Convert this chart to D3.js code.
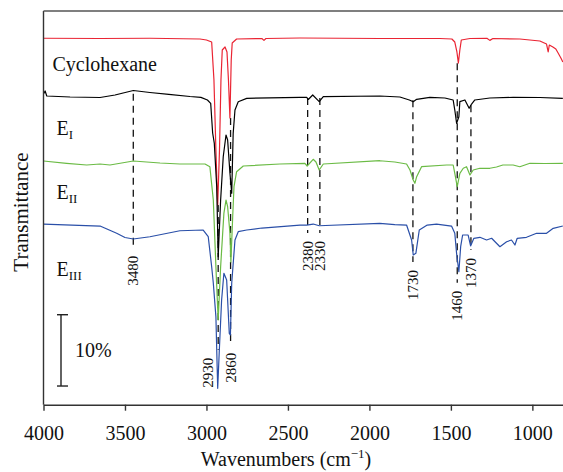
<!DOCTYPE html>
<html>
<head>
<meta charset="utf-8">
<script src="https://cdn.jsdelivr.net/npm/d3@7"></script>
<style>
  body { margin: 0; background: #fff; }
  svg text { font-family: "Liberation Serif", "DejaVu Serif", serif; fill: #111; }
</style>
</head>
<body>
<svg id="chart" width="563" height="472"></svg>
<script>
// spectra: [wavenumber (cm-1), transmittance (%, stacked)]
const cyclohexane = [
  [4000, 51.4], [3653, 51.36], [3347, 51.4], [3040, 51.29], [3000, 51.15], [2968, 50.87],
  [2954, 45.54], [2942, 35.72], [2931, 28.0], [2920, 35.72], [2911, 45.54], [2903, 49.75],
  [2886, 50.17], [2874, 49.47], [2865, 45.54], [2856, 40.21], [2848, 48.35], [2842, 50.73],
  [2815, 51.29], [2660, 51.36], [2647, 51.1], [2635, 51.36], [2426, 51.43], [1936, 51.36],
  [1568, 51.36], [1494, 51.29], [1476, 50.87], [1463, 49.47], [1454, 47.92], [1445, 49.75],
  [1436, 51.15], [1383, 51.36], [1279, 51.4], [1261, 51.1], [1242, 51.36], [1077, 51.29],
  [954, 51.01], [913, 50.59], [903, 49.47], [896, 50.45], [874, 50.17], [856, 49.89],
  [842, 49.33], [825, 48.63], [813, 48.07]
];
const eI = [
  [4000, 43.6], [3990, 44.0], [3980, 43.3], [3837, 43.16], [3653, 43.09], [3561, 43.44],
  [3449, 44.07], [3347, 43.79], [3231, 43.53], [3101, 43.23], [3034, 43.11], [2994, 42.74],
  [2974, 42.27], [2962, 38.11], [2952, 36.7], [2937, 30.58], [2928, 20.76], [2913, 28.71],
  [2897, 34.78], [2880, 37.83], [2870, 37.12], [2856, 32.5], [2845, 29.65], [2836, 38.06],
  [2825, 41.33], [2805, 42.5], [2753, 42.97], [2426, 43.11], [2385, 43.11], [2375, 42.81],
  [2348, 43.44], [2308, 42.5], [2283, 43.2], [1936, 43.3], [1813, 43.16], [1755, 42.74],
  [1731, 42.5], [1710, 42.83], [1629, 43.11], [1537, 43.02], [1486, 42.74], [1476, 41.33],
  [1465, 39.47], [1451, 40.39], [1445, 42.5], [1414, 42.74], [1388, 41.57], [1373, 42.17],
  [1353, 42.74], [1261, 43.02], [1118, 43.11], [954, 43.09], [813, 42.97]
];
const eII = [
  [4000, 34.18], [3858, 33.86], [3735, 33.62], [3653, 33.76], [3592, 33.62], [3449, 34.18],
  [3285, 33.9], [3163, 33.76], [3009, 33.76], [2979, 33.38], [2958, 28.71], [2942, 19.35],
  [2928, 11.88], [2913, 19.35], [2893, 26.84], [2880, 28.71], [2870, 27.77], [2856, 24.08],
  [2850, 20.01], [2839, 26.37], [2831, 30.58], [2815, 32.68], [2774, 33.48], [2549, 33.76],
  [2396, 33.86], [2382, 33.48], [2345, 34.42], [2328, 34.04], [2308, 32.92], [2283, 33.76],
  [1936, 34.22], [1844, 34.04], [1772, 33.76], [1751, 32.92], [1731, 31.52], [1721, 31.05],
  [1710, 31.98], [1680, 33.38], [1526, 33.62], [1486, 33.62], [1476, 32.45], [1461, 30.58],
  [1445, 32.45], [1424, 33.16], [1404, 33.38], [1383, 32.22], [1363, 32.92], [1322, 33.16],
  [1261, 33.16], [1220, 33.34], [1181, 33.62], [1118, 33.62], [1077, 33.38], [1015, 33.86],
  [923, 33.83], [813, 33.86]
];
const eIII = [
  [4000, 25.34], [3653, 25.06], [3551, 24.04], [3500, 23.45], [3449, 23.24], [3347, 23.56],
  [3163, 24.4], [3020, 24.5], [2989, 23.56], [2968, 19.35], [2958, 17.07], [2942, 12.34],
  [2931, 2.3], [2921, 7.67], [2907, 14.68], [2893, 18.43], [2876, 17.49], [2860, 10.01],
  [2853, 9.78], [2845, 17.03], [2825, 23.1], [2805, 24.27], [2753, 24.5], [2660, 24.78],
  [2426, 25.2], [2385, 25.2], [2345, 25.34], [2308, 25.1], [1936, 25.44], [1844, 25.27],
  [1772, 25.2], [1741, 23.1], [1731, 21.0], [1715, 21.23], [1694, 24.5], [1645, 25.2],
  [1588, 25.34], [1496, 25.06], [1476, 24.04], [1465, 21.23], [1451, 18.65], [1440, 22.16],
  [1428, 23.8], [1394, 23.8], [1379, 22.26], [1359, 23.34], [1322, 23.48], [1281, 23.1],
  [1250, 23.34], [1220, 22.64], [1199, 22.16], [1158, 22.86], [1128, 23.1], [1107, 22.4],
  [1093, 23.34], [1036, 23.48], [974, 24.04], [913, 24.04], [872, 24.74], [813, 25.06]
];

const seriesData = [cyclohexane, eI, eII, eIII];
const seriesColors = ["#ea2433", "#000000", "#6bbb45", "#2a4fa8"];
const seriesNames = ["Cyclohexane", "E", "E", "E"];
const seriesSubs = ["", "I", "II", "III"];

// marked bands
const peakLabels = ["3480", "2930", "2860", "2380", "2330", "1730", "1460", "1370"];
const peakPos = [3449, 2928, 2852, 2379, 2304, 1733, 1461, 1377];
const peakTop = [43.6, 28.0, 40.2, 43.0, 43.0, 42.7, 47.9, 42.0];
const peakBottom = [22.0, 7.7, 8.4, 24.1, 24.1, 20.0, 17.1, 21.7];

const xTicks = [4000, 3500, 3000, 2500, 2000, 1500, 1000];
const scaleBarSpan = 10; // %

const serif = "'Liberation Serif', 'DejaVu Serif', serif";
const svg = d3.select("#chart");
const plotLeft = 43.5, plotRight = 563, plotTop = 11, plotBottom = 404.7;

const x = d3.scaleLinear().domain([4000, 812]).range([plotLeft, plotRight]);
const y = d3.scaleLinear().domain([0, 55.22]).range([plotBottom, plotTop]);

svg.append("defs").append("clipPath").attr("id", "plotclip")
  .append("rect").attr("x", plotLeft).attr("y", plotTop)
  .attr("width", plotRight - plotLeft).attr("height", plotBottom - plotTop);

const plot = svg.append("g").attr("clip-path", "url(#plotclip)");

// dashed band markers
peakPos.forEach((p, i) => {
  plot.append("line")
    .attr("x1", x(p)).attr("x2", x(p))
    .attr("y1", y(peakTop[i])).attr("y2", y(peakBottom[i]))
    .attr("stroke", "#111")
    .attr("stroke-width", 1.3)
    .attr("stroke-dasharray", "7,5");
});

const line = d3.line()
  .x(d => x(d[0]))
  .y(d => y(d[1]));

seriesData.forEach((s, i) => {
  plot.append("path")
    .datum(s)
    .attr("fill", "none")
    .attr("stroke", seriesColors[i])
    .attr("stroke-width", 1.2)
    .attr("stroke-linejoin", "round")
    .attr("d", line);
});

// band labels, rotated
peakLabels.forEach((lab, i) => {
  const dx = lab === "2930" ? -10 : 0;
  const px = x(peakPos[i]) + dx;
  const py = y(peakBottom[i]) + 8;
  svg.append("text")
    .attr("transform", `translate(${px + 5},${py}) rotate(-90)`)
    .attr("text-anchor", "end")
    .style("font-size", "15px")
    .text(lab);
});

// axes
const xAxis = d3.axisBottom(x)
  .tickValues(xTicks)
  .tickSize(6)
  .tickSizeOuter(0)
  .tickFormat(d3.format("d"));

const gx = svg.append("g")
  .attr("transform", `translate(0,${plotBottom})`)
  .call(xAxis)
  .attr("font-family", serif)
  .attr("font-size", 20);
gx.select(".domain").attr("stroke", "#333").attr("stroke-width", 1.4);
gx.selectAll(".tick line").attr("stroke", "#333").attr("stroke-width", 1.4);
gx.selectAll(".tick text")
  .attr("y", 21)
  .attr("fill", "#111");

svg.append("line")
  .attr("x1", plotLeft).attr("x2", plotLeft).attr("y1", plotTop).attr("y2", plotBottom)
  .attr("stroke", "#333").attr("stroke-width", 1.4);
svg.append("line")
  .attr("x1", plotLeft).attr("x2", plotRight).attr("y1", plotTop).attr("y2", plotTop)
  .attr("stroke", "#555").attr("stroke-width", 1.4);

// axis titles
const xt = svg.append("text")
  .attr("x", 286).attr("y", 466)
  .attr("text-anchor", "middle")
  .style("font-size", "20px");
xt.append("tspan").text("Wavenumbers (cm");
xt.append("tspan").attr("dy", -8).style("font-size", "13px").text("\u22121");
xt.append("tspan").attr("dy", 8).text(")");

svg.append("text")
  .attr("transform", `translate(28,212) rotate(-90)`)
  .attr("text-anchor", "middle")
  .style("font-size", "21px")
  .text("Transmittance");

// series names
const nameY = [70.5, 135, 198.5, 276];
seriesNames.forEach((n, i) => {
  const t = svg.append("text")
    .attr("x", i === 0 ? 52.5 : 56.5)
    .attr("y", nameY[i])
    .style("font-size", "20px");
  t.append("tspan").text(n);
  if (seriesSubs[i]) {
    t.append("tspan").attr("dy", 4).style("font-size", "13px").text(seriesSubs[i]);
  }
});

// 10% scale bar
const barX = 61, barTop = y(12.62), barBot = y(12.62 - scaleBarSpan);
const bar = svg.append("g").attr("stroke", "#222").attr("stroke-width", 1.4);
bar.append("line").attr("x1", barX).attr("x2", barX).attr("y1", barTop).attr("y2", barBot);
bar.append("line").attr("x1", barX - 4).attr("x2", barX + 7).attr("y1", barTop).attr("y2", barTop);
bar.append("line").attr("x1", barX - 4).attr("x2", barX + 7).attr("y1", barBot).attr("y2", barBot);
svg.append("text")
  .attr("x", 75).attr("y", (barTop + barBot) / 2 + 7)
  .style("font-size", "20px")
  .text(scaleBarSpan + "%");
</script>
</body>
</html>
